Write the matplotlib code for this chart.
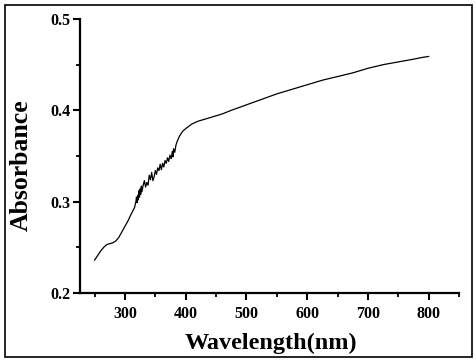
import matplotlib
matplotlib.use('Agg')
import matplotlib.pyplot as plt
from matplotlib.patches import Rectangle
from matplotlib.ticker import MultipleLocator

# absorbance spectrum, values
wavelength = [250, 255, 260, 265, 270, 275, 280, 285, 290, 295, 300, 305, 310, 316,
              318, 319, 320, 321, 322, 323, 324, 325, 326, 327, 328, 330, 332, 334,
              336, 338, 340, 342, 344, 346, 348, 350, 352, 354, 356, 358, 360, 362,
              364, 366, 368, 370, 372, 374, 376, 378, 379, 380, 382, 384, 386,
              390, 395, 400, 410, 420, 430, 440, 450, 460, 475, 500, 525, 550, 575,
              600, 625, 650, 675, 700, 725, 750, 775, 790, 800]
absorbance = [0.236, 0.241, 0.246, 0.250, 0.253, 0.254, 0.255, 0.257, 0.261, 0.267, 0.273, 0.279, 0.286, 0.294,
              0.300, 0.305, 0.299, 0.307, 0.302, 0.312, 0.305, 0.314, 0.308, 0.317, 0.311, 0.318, 0.323, 0.316,
              0.321, 0.318, 0.329, 0.324, 0.332, 0.323, 0.327, 0.334, 0.330, 0.337, 0.334, 0.341, 0.335, 0.342,
              0.338, 0.345, 0.342, 0.348, 0.344, 0.351, 0.347, 0.355, 0.349, 0.358, 0.354, 0.362, 0.366,
              0.372, 0.377, 0.380, 0.385, 0.388, 0.390, 0.392, 0.394, 0.396, 0.400, 0.406, 0.412, 0.418, 0.423,
              0.428, 0.433, 0.437, 0.441, 0.446, 0.450, 0.453, 0.456, 0.458, 0.459]

x_ticks = [300, 400, 500, 600, 700, 800]
y_ticks = [0.2, 0.3, 0.4, 0.5]

plt.rcParams['font.family'] = 'Liberation Serif'
plt.rcParams['font.weight'] = 'bold'

fig = plt.figure(figsize=(4.77, 3.64), dpi=100)
fig.patches.append(Rectangle((5 / 477, 7 / 364), 467 / 477, 352 / 364,
                             transform=fig.transFigure, fill=False,
                             edgecolor='black', linewidth=1.2))

ax = fig.add_axes([80 / 477, 71 / 364, 379 / 477, 274 / 364])
ax.plot(wavelength, absorbance, color='black', linewidth=0.9)

ax.set_xlim(226, 850)
ax.set_ylim(0.2, 0.5)
ax.set_xticks(x_ticks)
ax.set_yticks(y_ticks)
ax.set_yticklabels([str(v) for v in y_ticks])
ax.xaxis.set_minor_locator(MultipleLocator(50))
ax.yaxis.set_minor_locator(MultipleLocator(0.05))

for s in ['top', 'right']:
    ax.spines[s].set_visible(False)
for s in ['left', 'bottom']:
    ax.spines[s].set_linewidth(1.6)

ax.tick_params(which='major', direction='out', length=5, width=1.5, labelsize=11.5)
ax.tick_params(axis='x', which='major', pad=4)
ax.tick_params(axis='y', which='major', pad=2)
ax.tick_params(which='minor', direction='out', length=3, width=1.3)
for lab in ax.get_xticklabels() + ax.get_yticklabels():
    lab.set_fontweight('bold')

ax.set_xlabel('Wavelength(nm)', fontsize=17.5, fontweight='bold')
ax.set_ylabel('Absorbance', fontsize=18.5, fontweight='bold')
ax.xaxis.set_label_coords(0.505, -0.145)
ax.yaxis.set_label_coords(-0.125, 0.465)

fig.savefig('out.png', dpi=100)
